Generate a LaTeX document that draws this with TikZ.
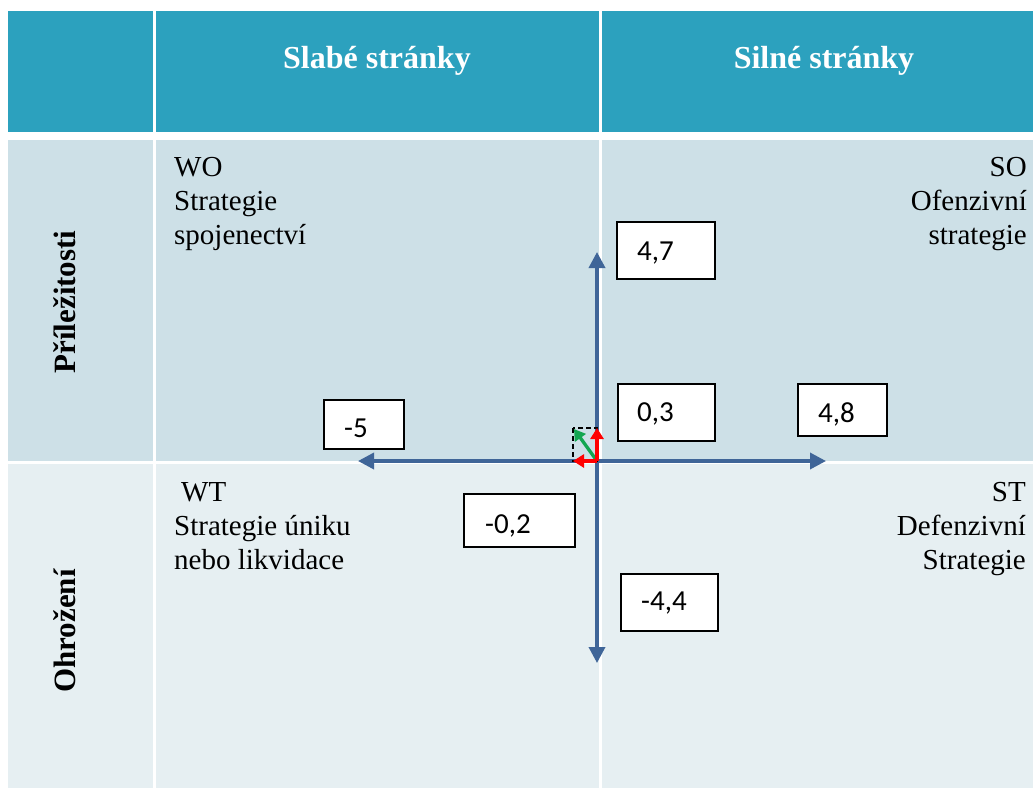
\documentclass[tikz,border=0pt]{standalone}
\usepackage{fontspec}
\setmainfont{Liberation Serif}
\newfontfamily\carlito{Carlito}
\usetikzlibrary{arrows.meta}
\definecolor{hdrteal}{HTML}{2CA1BE}
\definecolor{oppblue}{HTML}{CDE0E7}
\definecolor{thrblue}{HTML}{E6EFF2}
\definecolor{axisblue}{HTML}{3F6598}
\definecolor{vecred}{HTML}{FF0000}
\definecolor{vecgreen}{HTML}{12A650}
\begin{document}
\begin{tikzpicture}[x=1pt,y=-1pt,
  hdrtext/.style={text=white, font=\bfseries\fontsize{32}{38}\selectfont, inner sep=0},
  sidetext/.style={text=black, font=\bfseries\fontsize{31}{37}\selectfont, inner sep=0, rotate=90, anchor=base},
  quadtext/.style={font=\fontsize{29}{34}\selectfont, inner sep=0},
  valbox/.style={draw=black, line width=1.8pt, fill=white, inner sep=0, anchor=north west},
  valtext/.style={font=\carlito\fontsize{29}{34}\selectfont, inner sep=0, anchor=base west},
  axisline/.style={draw=axisblue, line width=3.5pt, {Triangle[length=16pt,width=16pt]}-{Triangle[length=16pt,width=16pt]}},
  vecarrow/.style={line width=3.3pt, -{Triangle[length=11pt,width=13pt]}},
]
\useasboundingbox (0,0) rectangle (1033,788);
\fill[white] (0,0) rectangle (1033,788);
% header row
\fill[hdrteal] (8,11) rectangle (153,132);
\fill[hdrteal] (156,11) rectangle (599,132);
\fill[hdrteal] (602,11) rectangle (1033,132);
% opportunities row
\fill[oppblue] (8,140) rectangle (153,461);
\fill[oppblue] (156,140) rectangle (599,461);
\fill[oppblue] (602,140) rectangle (1033,461);
% threats row
\fill[thrblue] (8,464) rectangle (153,788);
\fill[thrblue] (156,464) rectangle (599,788);
\fill[thrblue] (602,464) rectangle (1033,788);

% headers
\node[hdrtext, anchor=base] (hweak) at (377,68) {Slabé stránky};
\node[hdrtext, anchor=base] (hstrong) at (824,68) {Silné stránky};
\node[sidetext] (hopp) at (75,302) {Příležitosti};
\node[sidetext] (hthr) at (75,631) {Ohrožení};

% quadrant texts
\node[quadtext, anchor=base west] (wo1) at (174,176) {WO};
\node[quadtext, anchor=base west] (wo2) at (174,210) {Strategie};
\node[quadtext, anchor=base west] (wo3) at (174,244) {spojenectví};
\node[quadtext, anchor=base east] (so1) at (1027,176) {SO};
\node[quadtext, anchor=base east] (so2) at (1027,210) {Ofenzivní};
\node[quadtext, anchor=base east] (so3) at (1027,244) {strategie};
\node[quadtext, anchor=base west] (wt1) at (181,501) {WT};
\node[quadtext, anchor=base west] (wt2) at (174,535) {Strategie úniku};
\node[quadtext, anchor=base west] (wt3) at (174,569) {nebo likvidace};
\node[quadtext, anchor=base east] (st1) at (1026,501) {ST};
\node[quadtext, anchor=base east] (st2) at (1026,535) {Defenzivní};
\node[quadtext, anchor=base east] (st3) at (1026,569) {Strategie};

% axes
\coordinate (O) at (597,461);
\coordinate (vtop) at (597,252);
\coordinate (vbot) at (597,663);
\coordinate (hleft) at (358,461);
\coordinate (hright) at (826,461);
\draw[axisline] (vbot) -- (vtop);
\draw[axisline] (hleft) -- (hright);

% value boxes
\node[valbox, minimum width=98pt, minimum height=57pt] (b47) at (616,221) {};
\node[valtext] (t47) at (637,260) {4,7};
\node[valbox, minimum width=97pt, minimum height=57pt] (b03) at (617,383) {};
\node[valtext] (t03) at (637,421) {0,3};
\node[valbox, minimum width=89pt, minimum height=52pt] (b48) at (797,383) {};
\node[valtext] (t48) at (818,422) {4,8};
\node[valbox, minimum width=80pt, minimum height=49pt] (bm5) at (323,399) {};
\node[valtext] (tm5) at (344,437) {-5};
\node[valbox, minimum width=111pt, minimum height=53pt] (bm02) at (463,493) {};
\node[valtext] (tm02) at (485,533) {-0,2};
\node[valbox, minimum width=97pt, minimum height=57pt] (bm44) at (620,573) {};
\node[valtext] (tm44) at (641,610) {-4,4};

% result vectors
\coordinate (vy) at (597,428);
\coordinate (vx) at (573,461);
\coordinate (vr) at (574,429);
\draw[black, line width=1.5pt, dash pattern=on 5pt off 3pt] (573,428) rectangle (O);
\draw[vecarrow, vecgreen] (O) -- (vr);
\draw[vecarrow, vecred] (O) -- (vy);
\draw[vecarrow, vecred] (O) -- (vx);
\end{tikzpicture}
\end{document}
